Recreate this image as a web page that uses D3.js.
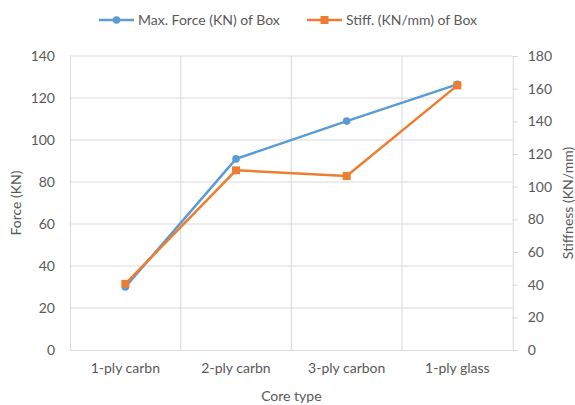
<!DOCTYPE html>
<html>
<head>
<meta charset="utf-8">
<script src="https://cdn.jsdelivr.net/npm/d3@7"></script>
<style>
  html, body { margin: 0; padding: 0; background: #fff; }
  svg { display: block; font-family: Lato, "Open Sans", sans-serif; }
</style>
</head>
<body>
<svg id="chart" width="575" height="405"></svg>
<script>
// Core types along the x axis
const categories = ["1-ply carbn", "2-ply carbn", "3-ply carbon", "1-ply glass"];
// Maximum force (KN), left axis
const forceValues = [30, 91, 109, 126.5];
// Stiffness (KN/mm), right axis
const stiffValues = [40.5, 110, 106.5, 162];
// Axis ticks
const forceTicks = [0, 20, 40, 60, 80, 100, 120, 140];
const stiffTicks = [0, 20, 40, 60, 80, 100, 120, 140, 160, 180];

const seriesNames = ["Max. Force (KN) of Box", "Stiff. (KN/mm) of Box"];
const blue = "#5B9BD5", orange = "#ED7D31";
const textColor = "#595959", gridColor = "#d9d9d9";
const fontSize = 14;

const svg = d3.select("#chart");
const plot = { left: 70, right: 512.7, top: 56, bottom: 350 };

const x = d3.scaleBand().domain(categories).range([plot.left, plot.right]).padding(0);
const yL = d3.scaleLinear().domain([0, 140]).range([plot.bottom, plot.top]);
const yR = d3.scaleLinear().domain([0, 180]).range([plot.bottom, plot.top]);
const cx = d => x(d) + x.bandwidth() / 2;

// Horizontal gridlines
svg.append("g").selectAll("line").data(forceTicks.slice(1)).join("line")
  .attr("x1", plot.left).attr("x2", plot.right)
  .attr("y1", d => yL(d)).attr("y2", d => yL(d))
  .attr("stroke", gridColor).attr("stroke-width", 1);

// Vertical gridlines at category boundaries
svg.append("g").selectAll("line").data(categories.slice(1)).join("line")
  .attr("x1", d => x(d)).attr("x2", d => x(d))
  .attr("y1", plot.top).attr("y2", plot.bottom)
  .attr("stroke", gridColor).attr("stroke-width", 1);

// Left axis
const gL = svg.append("g").attr("transform", `translate(${plot.left},0)`)
  .call(d3.axisLeft(yL).tickValues(forceTicks).tickSize(0).tickPadding(15));
// Right axis
const gR = svg.append("g").attr("transform", `translate(${plot.right},0)`)
  .call(d3.axisRight(yR).tickValues(stiffTicks).tickSize(5).tickPadding(10));
// Bottom axis
const gB = svg.append("g").attr("transform", `translate(0,${plot.bottom})`)
  .call(d3.axisBottom(x).tickSize(0).tickPadding(13));

[gL, gR, gB].forEach(g => {
  g.selectAll(".domain").attr("stroke", gridColor).attr("stroke-width", 1);
  g.selectAll(".tick line").attr("stroke", gridColor);
  g.selectAll("text").attr("fill", textColor).attr("font-size", fontSize)
    .attr("font-family", "Lato, 'Open Sans', sans-serif");
});

// Axis titles
svg.append("text").attr("transform", `translate(21,${(plot.top + plot.bottom) / 2}) rotate(-90)`)
  .attr("text-anchor", "middle").attr("fill", textColor).attr("font-size", fontSize)
  .text("Force (KN)");
svg.append("text").attr("transform", `translate(573,${(plot.top + plot.bottom) / 2}) rotate(-90)`)
  .attr("text-anchor", "middle").attr("fill", textColor).attr("font-size", fontSize)
  .text("Stiffness (KN/mm)");
svg.append("text").attr("x", (plot.left + plot.right) / 2).attr("y", 401)
  .attr("text-anchor", "middle").attr("fill", textColor).attr("font-size", fontSize)
  .text("Core type");

// Force series
const lineL = d3.line().x((d, i) => cx(categories[i])).y(d => yL(d));
svg.append("path").datum(forceValues).attr("d", lineL)
  .attr("fill", "none").attr("stroke", blue).attr("stroke-width", 2.5);
svg.append("g").selectAll("circle").data(forceValues).join("circle")
  .attr("cx", (d, i) => cx(categories[i])).attr("cy", d => yL(d)).attr("r", 3.8)
  .attr("fill", blue);

// Stiffness series
const lineR = d3.line().x((d, i) => cx(categories[i])).y(d => yR(d));
svg.append("path").datum(stiffValues).attr("d", lineR)
  .attr("fill", "none").attr("stroke", orange).attr("stroke-width", 2.5);
svg.append("g").selectAll("rect").data(stiffValues).join("rect")
  .attr("x", (d, i) => cx(categories[i]) - 4).attr("y", d => yR(d) - 4)
  .attr("width", 8).attr("height", 8).attr("fill", orange);

// Legend
const legend = svg.append("g");
const legendItems = [
  { name: seriesNames[0], color: blue, x: 99, shape: "circle" },
  { name: seriesNames[1], color: orange, x: 307, shape: "square" }
];
legendItems.forEach(it => {
  const ly = 20;
  legend.append("line").attr("x1", it.x).attr("x2", it.x + 35)
    .attr("y1", ly).attr("y2", ly).attr("stroke", it.color).attr("stroke-width", 2.5);
  if (it.shape === "circle") {
    legend.append("circle").attr("cx", it.x + 17.5).attr("cy", ly).attr("r", 3.8).attr("fill", it.color);
  } else {
    legend.append("rect").attr("x", it.x + 13.5).attr("y", ly - 4).attr("width", 8).attr("height", 8).attr("fill", it.color);
  }
  legend.append("text").attr("x", it.x + 39).attr("y", ly + 5)
    .attr("fill", textColor).attr("font-size", fontSize).text(it.name);
});
</script>
</body>
</html>
